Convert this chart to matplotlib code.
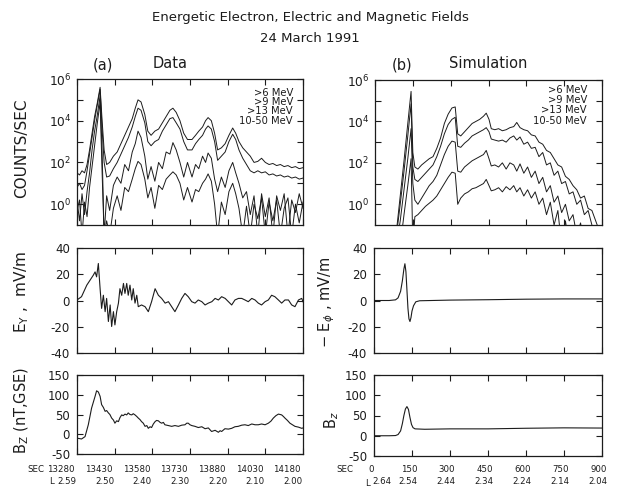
import matplotlib
matplotlib.use("Agg")
import matplotlib.pyplot as plt
import numpy as np
import matplotlib.transforms as mtransforms
from matplotlib.ticker import NullLocator, FixedLocator

# ---------------- data ----------------
# (a) Data: counts/sec (log10 values), time in SEC
t_cnt_a = [13280, 13290, 13300, 13310, 13320, 13330, 13340, 13350, 13360, 13372,
           13380, 13388, 13398, 13410, 13425, 13440, 13455, 13470, 13485, 13500,
           13512, 13523, 13535, 13550, 13562, 13575, 13590, 13605, 13620, 13635,
           13650, 13662, 13675, 13690, 13705, 13720, 13738, 13752, 13765, 13780,
           13792, 13802, 13815, 13828, 13840, 13855, 13870, 13885, 13900, 13912,
           13925, 13940, 13955, 13970, 13985, 14000, 14015, 14030, 14045, 14060,
           14075, 14090, 14105, 14120, 14135, 14150, 14165, 14180]
log_gt6_a = [1.5, 1.4, 1.6, 1.5, 1.9, 2.6, 3.4, 4.2, 4.8, 5.6,
             4.0, 2.6, 1.9, 2.0, 2.3, 2.5, 2.9, 3.3, 3.7, 4.1,
             4.6, 5.0, 4.9, 4.3, 3.5, 3.3, 3.5, 3.6, 3.9, 4.2,
             4.5, 4.6, 4.4, 4.0, 3.4, 3.1, 3.1, 3.3, 3.5, 3.7,
             4.0, 4.15, 4.0, 3.4, 2.6, 2.7, 2.9, 3.3, 3.65, 3.4,
             3.0, 2.7, 2.5, 2.3, 2.0, 2.05, 2.2, 2.0, 1.9, 1.95,
             1.85, 1.9, 1.8, 1.85, 1.75, 1.8, 1.7, 1.75]
log_gt9_a = [0.8, 1.0, 0.7, 0.9, 1.6, 2.4, 3.2, 4.0, 4.7, 5.5,
             3.6, 2.0, 1.3, 1.35, 1.7, 2.0, 2.4, 2.8, 3.2, 3.7,
             4.2, 4.6, 4.5, 3.9, 3.0, 2.8, 3.0, 3.1, 3.5, 3.8,
             4.1, 4.15, 3.9, 3.6, 3.0, 2.6, 2.6, 2.9, 3.1, 3.3,
             3.6, 3.75, 3.6, 3.0, 2.1, 2.3, 2.5, 3.0, 3.35, 3.1,
             2.6, 2.2, 1.9, 1.6, 1.5, 1.6, 1.5, 1.55, 1.4, 1.45,
             1.35, 1.4, 1.3, 1.35, 1.25, 1.3, 1.2, 1.25]
log_gt13_a = [0.2, -0.8, 0.5, -0.5, 0.6, 1.5, 2.6, 3.5, 4.2, 5.2,
              2.5, -1.5, 0.4, -0.3, 0.9, 1.3, 1.0, 1.9, 1.6, 2.5,
              2.9, 3.5, 3.2, 2.3, 1.2, 1.8, 1.1, 2.0, 1.7, 2.5,
              2.4, 2.95, 2.6, 2.0, 1.3, 2.0, 1.3, 1.9, 1.7, 2.3,
              2.0, 2.45, 2.2, 1.2, 0.6, 1.3, 0.8, 1.6, 2.0, 1.5,
              1.0, 0.3, 0.6, -0.5, 0.4, -1.5, 0.5, -0.6, 0.3, -1.5,
              0.4, -0.3, 0.5, -1.5, 0.2, -0.4, 0.5, -0.2]
log_1050_a = [-0.3, 0.2, -1.5, 0.1, -0.6, 0.8, 1.8, 2.8, 3.8, 4.9,
              1.5, -1.5, -0.8, -1.5, -0.2, 0.4, -0.3, 0.8, 0.6, 1.2,
              1.7, 2.05, 1.9, 1.2, 0.3, 0.8, -0.2, 0.9, 0.7, 1.2,
              1.4, 1.55, 1.4, 1.0, 0.2, 0.8, 0.1, 0.7, 0.6, 1.0,
              1.2, 1.45, 1.1, 0.0, -1.5, 0.1, -0.5, 0.6, 1.0, 0.5,
              -0.2, -1.5, -0.1, -1.5, 0.0, -0.7, 0.3, -1.5, 0.1, -0.8,
              0.2, -1.5, -0.2, 0.3, -1.5, 0.0, -0.9, 0.1]

# (b) Simulation: counts/sec (log10 values), time in SEC
t_cnt_b = [0, 60, 85, 100, 115, 130, 143, 150, 158, 170,
           185, 200, 215, 230, 245, 260, 275, 290, 305, 318,
           328, 340, 355, 370, 385, 400, 415, 430, 441, 452,
           461, 475, 490, 505, 520, 535, 550, 562, 575, 590,
           605, 620, 635, 650, 665, 680, 695, 710, 725, 740,
           755, 770, 785, 800, 815, 830, 845, 860, 875, 890,
           900]
log_gt6_b = [-2, -2, -1.3, 0.4, 2.1, 3.9, 5.45, 2.5, 1.8, 1.7,
             1.9, 2.05, 2.2, 2.3, 2.7, 3.2, 3.9, 4.35, 4.65, 4.7,
             3.4, 3.3, 3.5, 3.7, 3.9, 4.0, 4.1, 4.25, 4.4, 4.1,
             3.65, 3.6, 3.65, 3.55, 3.6, 3.7, 3.75, 3.95, 3.7, 3.6,
             3.55, 3.35, 3.3, 3.0, 2.9, 2.6, 2.5, 2.2, 1.9, 1.8,
             1.35, 1.2, 0.9, 0.7, 0.3, 0.4, -0.2, -0.3, -0.8, -1.3,
             -1.5]
log_gt9_b = [-2, -2, -1.5, 0.0, 1.6, 3.3, 4.85, 1.8, 1.2, 1.1,
             1.3, 1.5, 1.7, 1.9, 2.3, 2.8, 3.4, 3.85, 4.1, 4.2,
             2.8, 2.75, 2.95, 3.1, 3.3, 3.4, 3.5, 3.6, 3.7, 3.5,
             3.15, 3.1, 3.05, 3.1, 3.0, 3.2, 3.3, 3.1, 3.25, 2.9,
             3.0, 2.7, 2.75, 2.3, 2.5, 1.9, 2.0, 1.4, 1.6, 1.0,
             1.1, 0.5, 0.6, 0.0, 0.2, -0.5, -0.3, -1.0, -1.5, -2,
             -2]
log_gt13_b = [-2, -2, -2, -0.8, 0.7, 2.2, 3.65, 1.0, 0.2, 0.0,
              0.3, 0.6, 0.9, 1.1, 1.4, 1.9, 2.4, 2.8, 3.05, 3.0,
              1.6, 1.55, 1.8, 1.95, 2.1, 2.2, 2.3, 2.4, 2.6, 2.2,
              1.85, 1.9, 1.8, 2.0, 1.7, 2.0, 1.9, 1.6, 1.95, 1.5,
              1.8, 1.3, 1.6, 1.0, 1.3, 0.6, 0.9, 0.1, 0.4, -0.4,
              0.0, -0.8, -0.5, -1.5, -0.9, -2, -2, -2, -2, -2,
              -2]
log_1050_b = [-2, -2, -2, -2, -0.5, 0.9, 2.2, -2, -0.6, -0.5,
              -0.3, -0.1, 0.05, 0.2, 0.4, 0.7, 1.0, 1.3, 1.55, 1.5,
              0.0, 0.3, 0.5, 0.6, 0.75, 0.8, 0.9, 1.0, 1.2, 0.9,
              0.65, 0.7, 0.8, 0.6, 0.85, 0.7, 0.9, 0.6, 0.8, 0.4,
              0.7, 0.3, 0.6, 0.0, 0.3, -0.5, 0.1, -1.0, -0.3, -2,
              -0.8, -2, -1.2, -2, -2, -2, -2, -2, -2, -2,
              -2]

# (a) E_Y, mV/m
t_ey_a = [13280, 13298, 13319, 13332, 13345, 13352, 13358, 13365, 13372, 13378,
          13385, 13392, 13398, 13405, 13412, 13418, 13425, 13431, 13438, 13445,
          13451, 13458, 13465, 13471, 13478, 13484, 13491, 13498, 13504, 13511,
          13518, 13524, 13537, 13551, 13564, 13577, 13591, 13604, 13617, 13631,
          13644, 13657, 13670, 13684, 13697, 13710, 13723, 13737, 13750, 13763,
          13777, 13790, 13803, 13817, 13830, 13843, 13856, 13870, 13883, 13896,
          13909, 13923, 13936, 13949, 13962, 13976, 13989, 14002, 14015, 14029,
          14042, 14055, 14068, 14082, 14095, 14108, 14122, 14135, 14148, 14162,
          14175, 14180]
ey_a = [0.4, 2.9, 11.7, 15.5, 19.3, 21.8, 18, 28.2, 9, -6,
        4, -8.5, 1.6, -16, -3.4, -19.8, -8.5, -18.6, -8.5, -2,
        9, 4, 13, 5.4, 13, 4, 11.7, 0.4, 9, -2,
        4, -4.7, -3.4, -4.7, -8.5, -0.9, 9, 4, 1.6, -2,
        -0.9, -4.7, -8.5, -3.4, 1.6, 5.4, 2.9, -0.9, -2, 0.4,
        -0.9, -3.4, -2, -0.9, 1.6, 0.4, 2.9, 1.6, -0.9, -3.4,
        0.4, 1.6, 1.6, 0.4, -0.9, 1.6, 0.4, -2, -3.4, -0.9,
        0.4, 4, 2.9, 0.4, -2, 0.4, 0.4, -3.4, -4.7, 0.4,
        1.6, -1]

# (b) -E_phi, mV/m
t_ephi_b = [0, 60, 85, 95, 105, 112, 118, 122, 126, 130, 134, 138, 142, 146,
            150, 156, 165, 180, 300, 450, 600, 750, 900]
ephi_b = [0, 0, 0.5, 2, 7, 15, 24, 28, 22, 8, -6, -14, -16, -13,
          -8, -4, -1, -0.2, 0.3, 0.6, 1.0, 1.2, 1.2]

# (a) B_Z (nT, GSE)
t_bz_a = [13280, 13290, 13298, 13305, 13312, 13325, 13338, 13352, 13358, 13365,
          13372, 13378, 13385, 13392, 13398, 13405, 13411, 13418, 13425, 13431,
          13438, 13445, 13451, 13458, 13464, 13471, 13478, 13484, 13491, 13498,
          13504, 13511, 13518, 13524, 13531, 13537, 13544, 13551, 13558, 13564,
          13571, 13577, 13584, 13591, 13597, 13604, 13611, 13617, 13624, 13630,
          13644, 13657, 13670, 13684, 13697, 13710, 13717, 13723, 13730, 13737,
          13750, 13763, 13777, 13790, 13803, 13816, 13830, 13843, 13850, 13856,
          13869, 13883, 13896, 13909, 13922, 13936, 13949, 13962, 13976, 13989,
          14002, 14015, 14029, 14042, 14052, 14062, 14072, 14082, 14089, 14095,
          14102, 14108, 14118, 14128, 14138, 14148, 14162, 14175, 14180]
bz_a = [-10, -11, -12, -9, -6, 24, 66, 96, 110, 107,
        96, 75, 68, 58, 60, 54, 50, 41, 36, 28,
        34, 32, 42, 49, 47, 51, 49, 54, 50, 49,
        52, 49, 45, 41, 37, 32, 28, 20, 22, 15,
        19, 17, 26, 32, 35, 34, 30, 28, 30, 24,
        22, 20, 22, 20, 23, 24, 28, 28, 24, 22,
        20, 17, 19, 14, 16, 7, 10, 5, 9, 7,
        14, 13, 15, 19, 20, 23, 24, 22, 26, 24,
        24, 26, 24, 28, 33, 41, 47, 51, 50, 49,
        45, 41, 35, 28, 24, 20, 18, 15, 16]

# (b) B_z
t_bz_b = [0, 60, 85, 95, 105, 112, 118, 124, 130, 136, 142, 148, 154, 162,
          200, 300, 450, 600, 750, 900]
bz_b = [0, 0, 0.5, 3, 12, 30, 50, 66, 72, 65, 45, 28, 20, 17,
        16, 17, 17, 18.5, 19.5, 19]

# axis labels / ticks
sec_ticks_a = [13280, 13430, 13580, 13730, 13880, 14030, 14180]
l_labels_a = ["2.59", "2.50", "2.40", "2.30", "2.20", "2.10", "2.00"]
sec_ticks_b = [0, 150, 300, 450, 600, 750, 900]
l_labels_b = ["2.64", "2.54", "2.44", "2.34", "2.24", "2.14", "2.04"]
legend_labels = [">6 MeV", ">9 MeV", ">13 MeV", "10-50 MeV"]

# ---------------- figure ----------------
W, H = 621, 488
fig = plt.figure(figsize=(W / 100, H / 100), dpi=100)
INK = "#1c1c1c"
plt.rcParams["font.family"] = ["DejaVu Sans"]


def rect(l, t, r, b):
    return [l / W, 1 - b / H, (r - l) / W, (b - t) / H]


def fx(px):
    return px / W


def fy(py):
    return 1 - py / H


def base_style(ax, xticks):
    ax.set_xlim(xticks[0], xticks[-1])
    ax.set_xticks(xticks)
    ax.tick_params(direction="in", top=True, right=True, length=4, width=0.8,
                   labelsize=8, colors=INK, labelbottom=False, pad=4)
    for s in ax.spines.values():
        s.set_color(INK)
        s.set_linewidth(0.9)


def count_panel(ax, t, curves, xticks):
    for c in curves:
        ax.plot(t, 10.0 ** np.asarray(c), color=INK, lw=0.7)
    ax.set_yscale("log")
    base_style(ax, xticks)
    ax.set_ylim(0.1, 1e6)
    ax.yaxis.set_major_locator(FixedLocator([10.0 ** k for k in range(0, 7)]))
    ax.yaxis.set_minor_locator(NullLocator())
    ax.set_yticklabels([r"$10^{%d}$" % k if k % 2 == 0 else "" for k in range(0, 7)])
    ax.tick_params(axis="y", labelsize=8.8, pad=4)


def line_panel(ax, t, v, xticks, yticks):
    ax.plot(t, v, color=INK, lw=0.8)
    base_style(ax, xticks)
    ax.set_ylim(yticks[0], yticks[-1])
    ax.set_yticks(yticks)
    ax.set_yticklabels([str(y) for y in yticks])
    ax.tick_params(axis="y", labelsize=8.5, pad=5)


axTL = fig.add_axes(rect(77, 79, 303, 225))
axML = fig.add_axes(rect(77, 248, 303, 353))
axBL = fig.add_axes(rect(77, 375, 303, 454))
axTR = fig.add_axes(rect(375, 80, 602, 225))
axMR = fig.add_axes(rect(374, 248, 602, 353))
axBR = fig.add_axes(rect(374, 375, 602, 456))

count_panel(axTL, t_cnt_a, [log_gt6_a, log_gt9_a, log_gt13_a, log_1050_a], sec_ticks_a)
count_panel(axTR, t_cnt_b, [log_gt6_b, log_gt9_b, log_gt13_b, log_1050_b], sec_ticks_b)
line_panel(axML, t_ey_a, ey_a, sec_ticks_a, [-40, -20, 0, 20, 40])
line_panel(axMR, t_ephi_b, ephi_b, sec_ticks_b, [-40, -20, 0, 20, 40])
line_panel(axBL, t_bz_a, bz_a, sec_ticks_a, [-50, 0, 50, 100, 150])
line_panel(axBR, t_bz_b, bz_b, sec_ticks_b, [-50, 0, 50, 100, 150])

XFS = 6.2


def bottom_labels(ax, secs, ls, dx_sec, dx_l):
    tr = mtransforms.blended_transform_factory(ax.transData, fig.transFigure)
    for i, (s, l) in enumerate(zip(secs, ls)):
        o1 = mtransforms.ScaledTranslation(dx_sec / 100, 0, fig.dpi_scale_trans)
        o2 = mtransforms.ScaledTranslation(dx_l[i] / 100, 0, fig.dpi_scale_trans)
        ax.text(s, fy(470), str(s), transform=tr + o1, ha="center", va="center",
                fontsize=XFS, color=INK)
        ax.text(s, fy(482), l, transform=tr + o2, ha="center", va="center",
                fontsize=XFS, color=INK)


bottom_labels(axBL, sec_ticks_a, l_labels_a, -16, [-10] * 7)
bottom_labels(axBR, sec_ticks_b, l_labels_b, -3, [8, -4, -4, -4, -4, -4, -4])
fig.text(fx(36), fy(470), "SEC", ha="center", va="center", fontsize=XFS, color=INK)
fig.text(fx(52), fy(482), "L", ha="center", va="center", fontsize=XFS, color=INK)
fig.text(fx(345), fy(470), "SEC", ha="center", va="center", fontsize=XFS, color=INK)
fig.text(fx(367), fy(483), "L", ha="center", va="center", fontsize=XFS, color=INK)

# legends (text lists inside count panels)
for xr, ys in [(293, [93, 102, 111, 121]), (587, [90, 100, 110, 121])]:
    for lab, yy in zip(legend_labels, ys):
        fig.text(fx(xr), fy(yy), lab, ha="right", va="center", fontsize=7.2, color=INK)

# titles
fig.text(fx(310), fy(17), "Energetic Electron, Electric and Magnetic Fields",
         ha="center", va="center", fontsize=9.5, color=INK)
fig.text(fx(310), fy(38), "24 March 1991", ha="center", va="center",
         fontsize=9.5, color=INK)
fig.text(fx(103), fy(65), "(a)", ha="center", va="center", fontsize=10.5, color=INK)
fig.text(fx(170), fy(63), "Data", ha="center", va="center", fontsize=10.5, color=INK)
fig.text(fx(402), fy(65), "(b)", ha="center", va="center", fontsize=10.5, color=INK)
fig.text(fx(488), fy(63), "Simulation", ha="center", va="center", fontsize=10.5, color=INK)

# y-axis labels
fig.text(fx(22), fy(148), "COUNTS/SEC", rotation=90, ha="center", va="center",
         fontsize=11, color=INK)
fig.text(fx(22), fy(292), r"E$_{\mathrm{Y}}$ ,  mV/m", rotation=90, ha="center",
         va="center", fontsize=11, color=INK)
fig.text(fx(22), fy(410), r"B$_{\mathrm{Z}}$ (nT,GSE)", rotation=90, ha="center",
         va="center", fontsize=10.5, color=INK)
fig.text(fx(327), fy(302), r"$-$ E$_{\phi}$ , mV/m", rotation=90, ha="center",
         va="center", fontsize=10.5, color=INK)
fig.text(fx(332), fy(420), r"B$_{z}$", rotation=90, ha="center", va="center",
         fontsize=10.5, color=INK)

fig.savefig("out.png", dpi=100)
